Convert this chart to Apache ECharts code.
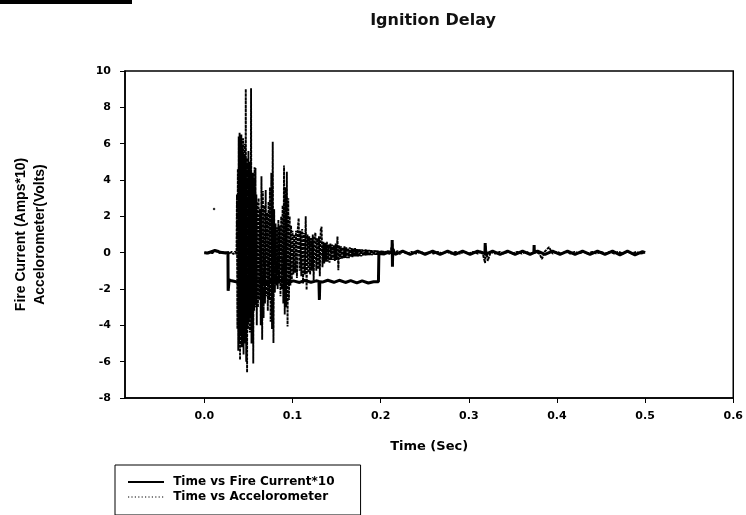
<!DOCTYPE html>
<html>
<head>
<meta charset="utf-8">
<style>html,body{margin:0;padding:0;background:#fff;}#c{width:746px;height:515px;}</style>
<script src="https://cdn.jsdelivr.net/npm/echarts@6/dist/echarts.min.js"></script>
</head>
<body>
<div id="c"></div>
<script>
var titleText = 'Ignition Delay';
var xName = 'Time (Sec)';
var yName = 'Fire Current (Amps*10)\nAccelorometer(Volts)';
var seriesNames = ['Time vs Fire Current*10', 'Time vs Accelorometer'];
var xTicks = [0.0, 0.1, 0.2, 0.3, 0.4, 0.5, 0.6];

var fireT = [0.000,0.004,0.008,0.012,0.015,0.018,0.022,0.0268,0.0270,0.0278,0.0282,0.031,0.036,0.042,0.048,0.055,0.061,0.068,0.075,0.081,0.088,0.094,0.101,0.108,0.114,0.121,0.127,0.1300,0.1305,0.1310,0.134,0.140,0.147,0.153,0.160,0.166,0.173,0.179,0.186,0.192,0.1975,0.1980,0.2000,0.2040,0.2080,0.2128,0.2131,0.2134,0.2137,0.2165,0.2250,0.2335,0.2420,0.2505,0.2590,0.2675,0.2760,0.2845,0.2930,0.3015,0.3100,0.3183,0.3186,0.3189,0.3270,0.3355,0.3440,0.3525,0.3610,0.3695,0.3738,0.3741,0.3744,0.3780,0.3865,0.3950,0.4035,0.4120,0.4205,0.4290,0.4375,0.4460,0.4545,0.4630,0.4715,0.4800,0.4885,0.4970,0.5000];
var fireV = [0.00,-0.02,0.05,0.12,0.08,0.02,0.00,0.00,-2.10,-2.00,-1.50,-1.55,-1.60,-1.65,-1.55,-1.62,-1.55,-1.65,-1.55,-1.63,-1.55,-1.66,-1.55,-1.64,-1.53,-1.63,-1.55,-1.58,-2.60,-1.60,-1.62,-1.52,-1.63,-1.52,-1.64,-1.54,-1.66,-1.55,-1.67,-1.60,-1.60,-0.05,0.00,-0.08,0.05,0.00,0.70,-0.77,0.20,-0.10,0.08,-0.10,0.08,-0.10,0.08,-0.10,0.08,-0.10,0.08,-0.10,0.08,-0.05,0.53,-0.10,0.08,-0.10,0.08,-0.10,0.08,-0.10,0.00,0.42,0.00,0.08,-0.10,0.08,-0.10,0.08,-0.10,0.08,-0.10,0.08,-0.10,0.08,-0.12,0.08,-0.12,0.06,0.00];

var accelT = [
0.000,0.003,0.006,0.009,0.012,0.015,0.018,0.021,0.024,0.027,0.029,0.031,0.033,0.035,0.0365,
0.0370,0.0375,0.0380,0.0385,0.0390,0.0395,0.0400,0.0405,0.0410,0.0415,0.0420,0.0425,0.0430,0.0435,0.0440,0.0445,0.0450,0.0455,0.0460,0.0465,0.0470,0.0475,0.0480,0.0485,0.0490,0.0495,0.0500,0.0505,0.0510,0.0515,0.0520,0.0525,0.0530,0.0535,0.0540,0.0545,0.0550,0.0555,0.0560,0.0565,0.0570,0.0575,0.0580,0.0585,0.0590,0.0595,0.0600,
0.0608,0.0616,0.0624,0.0632,0.0640,0.0648,0.0656,0.0664,0.0672,0.0680,0.0688,0.0696,0.0704,0.0712,0.0720,0.0728,0.0736,0.0744,0.0752,0.0760,0.0768,0.0776,0.0784,0.0792,0.0800,0.0808,0.0816,0.0824,0.0832,0.0840,0.0848,0.0856,0.0864,0.0872,0.0880,0.0888,0.0896,0.0904,0.0912,0.0920,0.0928,0.0936,0.0944,0.0952,0.0960,0.0968,0.0976,0.0984,0.0992,0.1000,
0.101,0.102,0.103,0.104,0.105,0.106,0.107,0.108,0.109,0.110,0.111,0.112,0.113,0.114,0.115,0.116,0.117,0.118,0.119,0.120,0.121,0.122,0.123,0.124,0.125,0.126,0.127,0.128,0.129,0.130,0.131,0.132,0.133,
0.134,0.135,0.136,0.137,0.138,0.139,0.140,0.141,0.142,0.143,0.144,0.145,0.146,0.147,0.148,0.149,0.150,0.151,0.152,0.153,0.154,0.155,0.156,0.157,0.158,0.159,0.160,0.161,0.162,0.163,0.164,0.165,0.166,0.167,0.168,0.169,0.170,0.171,0.172,0.173,0.174,0.175,0.176,0.177,0.178,0.179,0.180,0.181,0.182,0.183,0.184,0.185,0.186,0.187,0.188,0.189,0.190,0.191,0.192,0.193,0.194,0.195,0.196,0.197,0.198,0.199,0.200,0.201,0.202,0.203,0.204,0.205,0.206,0.207,0.208,0.209,0.210,
0.2125,0.2130,0.2135,0.2140,0.2145,0.216,0.219,0.222,0.225,0.230,
0.235,0.240,0.245,0.250,0.255,0.260,0.265,0.270,0.275,0.280,0.285,0.290,0.295,0.300,0.305,0.310,0.315,0.3185,0.3190,0.3215,0.325,0.330,0.335,0.340,0.345,0.350,0.355,0.360,0.365,0.370,0.375,0.380,0.383,0.386,0.391,0.395,0.400,0.405,0.410,0.415,0.420,0.425,0.430,0.435,0.440,0.445,0.450,0.455,0.460,0.465,0.470,0.475,0.480,0.485,0.490,0.495,0.500];
var accelV = [
0.02,-0.04,0.05,-0.03,0.10,0.05,-0.03,0.04,-0.05,0.05,-0.08,0.06,-0.08,0.07,-0.10,
3.2,-4.2,4.6,-5.4,6.4,-5.0,6.6,-5.9,6.2,-4.6,6.5,-5.2,5.8,-4.4,6.3,-5.6,5.4,-4.0,6.0,-5.0,9.0,-6.0,5.2,-6.6,4.8,-4.2,5.6,-3.8,4.6,-4.4,5.0,-3.6,9.05,-5.0,4.2,-3.4,4.4,-6.1,4.0,-3.2,4.7,-3.0,4.66,-2.8,3.2,-4.0,2.8,
-3.0,3.0,-2.6,2.4,-4.0,4.2,-4.8,3.4,-3.6,2.6,-2.8,3.45,-2.4,2.2,-3.2,2.8,-2.6,3.6,-3.8,4.4,-4.2,6.1,-4.97,2.4,-2.2,1.6,-1.8,1.4,-2.0,1.8,-1.7,1.5,-2.4,2.0,-2.0,2.6,-2.8,4.8,-3.4,3.6,-3.0,4.45,-4.07,3.0,-2.6,2.0,-1.8,1.5,-1.6,1.2,
-1.2,1.0,-1.1,1.2,-1.4,1.3,1.9,-1.0,1.2,-1.3,1.3,-1.7,1.1,-1.2,2.0,-2.05,1.0,-1.1,0.9,-1.2,0.8,-1.0,1.0,-1.5,0.8,1.1,-1.0,0.8,-0.9,0.9,-1.3,1.25,1.43,
-0.8,0.6,-0.6,0.55,-0.5,0.6,-0.5,0.45,-0.55,0.5,-0.4,0.45,-0.4,0.4,-0.45,0.5,-0.4,0.9,-0.96,0.4,-0.35,0.35,-0.35,0.3,-0.3,0.35,-0.3,0.3,-0.3,0.25,-0.3,0.3,-0.25,0.25,-0.25,0.22,-0.22,0.25,-0.2,0.2,-0.22,0.2,-0.2,0.18,-0.2,0.18,-0.18,0.16,-0.16,0.18,-0.15,0.15,-0.15,0.15,-0.14,0.14,-0.14,0.13,-0.13,0.13,-0.12,0.12,-0.12,0.12,-0.12,0.11,-0.11,0.11,-0.1,0.1,-0.1,0.1,-0.1,0.1,-0.1,0.1,-0.1,
0.3,-0.6,0.5,-0.4,0.2,-0.1,0.1,-0.08,0.08,-0.06,
0.05,-0.05,0.05,-0.05,0.05,-0.05,0.05,-0.05,0.05,-0.05,0.05,-0.05,0.05,-0.05,0.05,-0.05,0.1,-0.57,0.4,-0.45,0.05,-0.05,0.05,-0.05,0.05,-0.05,0.05,-0.05,0.05,-0.05,0.05,-0.05,-0.35,0.05,0.3,-0.05,0.05,-0.05,0.05,-0.05,0.05,-0.05,0.05,-0.05,0.05,-0.05,0.05,-0.05,0.05,-0.05,0.05,-0.05,0.05,-0.05,0.05,-0.05,0.0];

var strayT = [0.011];
var strayV = [2.4];

function zip(a, b) { return a.map(function (t, i) { return [t, b[i]]; }); }

var chart = echarts.init(document.getElementById('c'), null, {renderer: 'canvas'});
var labelFont = {fontFamily: 'DejaVu Sans', fontWeight: 'bold', fontSize: 11, color: '#000'};
chart.setOption({
  animation: false,
  backgroundColor: '#fff',
  title: {
    text: titleText, left: 428, top: 8, textAlign: 'center',
    textStyle: {fontFamily: 'DejaVu Sans', fontWeight: 'bold', fontSize: 16, color: '#111'}
  },
  graphic: [{type: 'rect', shape: {x: 0, y: 0, width: 132, height: 4}, style: {fill: '#000'}}],
  grid: {left: 125, right: 11, top: 71, bottom: 117, show: true, borderColor: '#000', borderWidth: 1.5, backgroundColor: 'transparent'},
  legend: {
    data: [
      {name: seriesNames[0], lineStyle: {width: 2, type: 'solid'}},
      {name: seriesNames[1], lineStyle: {width: 1.2, type: [1.2, 2.2]}}
    ],
    orient: 'vertical', left: 115, top: 465,
    padding: [11, 26, 12, 12], itemGap: 3, itemWidth: 36, itemHeight: 12,
    borderColor: '#000', borderWidth: 1, backgroundColor: '#fff',
    itemStyle: {opacity: 0},
    formatter: function (n) { return ' ' + n; },
    textStyle: {fontFamily: 'DejaVu Sans', fontWeight: 'bold', fontSize: 12, color: '#000'}
  },
  xAxis: {
    type: 'value', min: -0.09, max: 0.6,
    name: xName, nameLocation: 'middle', nameGap: 42,
    nameTextStyle: {fontFamily: 'DejaVu Sans', fontWeight: 'bold', fontSize: 13, color: '#000'},
    axisLine: {show: true, onZero: false, lineStyle: {color: '#000', width: 1.5}},
    axisTick: {show: true, length: 5, customValues: xTicks, lineStyle: {color: '#000', width: 1}},
    axisLabel: Object.assign({customValues: xTicks, margin: 13, formatter: function (v) { return v.toFixed(1); }}, labelFont),
    splitLine: {show: false}
  },
  yAxis: {
    type: 'value', min: -8, max: 10, interval: 2,
    name: yName, nameLocation: 'middle', nameRotate: 90, nameGap: 75,
    nameTextStyle: {fontFamily: 'Liberation Sans', fontWeight: 'bold', fontSize: 14, lineHeight: 19, color: '#000'},
    axisLine: {show: true, onZero: false, lineStyle: {color: '#000', width: 1.5}},
    axisTick: {show: true, length: 5, lineStyle: {color: '#000', width: 1}},
    axisLabel: Object.assign({margin: 14}, labelFont),
    splitLine: {show: false}
  },
  series: [
    {
      name: seriesNames[0], type: 'line', data: zip(fireT, fireV), symbol: 'none', z: 3,
      lineStyle: {color: '#000', width: 3, type: 'solid'}, itemStyle: {color: '#000'}
    },
    {
      name: seriesNames[1], type: 'line', data: zip(accelT, accelV), symbol: 'none', z: 2,
      lineStyle: {color: '#000', width: 1.9, type: [3, 0.9]}, itemStyle: {color: '#000'}
    },
    {
      name: 'stray', type: 'scatter', data: zip(strayT, strayV), symbolSize: 2.5,
      itemStyle: {color: '#000'}
    }
  ]
});
</script>
</body>
</html>
